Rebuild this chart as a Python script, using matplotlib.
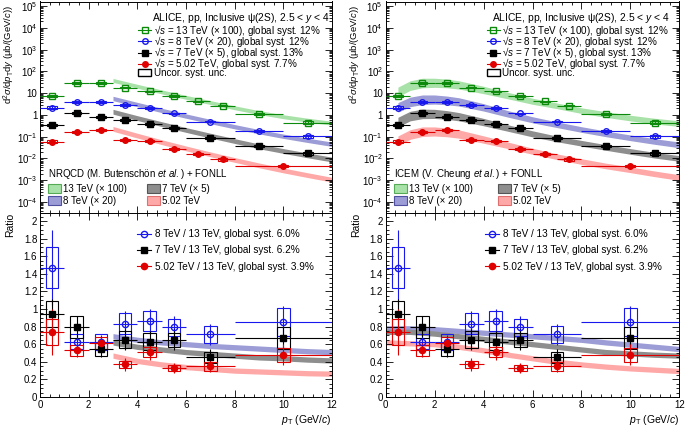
import numpy as np
import matplotlib.pyplot as plt
from matplotlib.patches import Rectangle, Patch
from matplotlib.lines import Line2D
from matplotlib.ticker import FixedLocator, MultipleLocator, FuncFormatter, NullFormatter

plt.rcParams['font.family'] = ['Liberation Sans', 'DejaVu Sans']
plt.rcParams['mathtext.fontset'] = 'custom'
plt.rcParams['mathtext.rm'] = 'Liberation Sans'
plt.rcParams['mathtext.it'] = 'Liberation Sans:italic'
plt.rcParams['mathtext.bf'] = 'Liberation Sans:bold'
plt.rcParams['font.size'] = 7

# ---- measured cross sections (already multiplied by the legend factors)
pt13 = [0.5, 1.5, 2.5, 3.5, 4.5, 5.5, 6.5, 7.5, 9, 11]
hw13 = [0.5, 0.5, 0.5, 0.5, 0.5, 0.5, 0.5, 0.5, 1, 1]
xs13 = [7.6, 30, 30, 18, 12.3, 7.6, 4.2, 2.7, 1.15, 0.45]
st13 = [0.08, 0.05, 0.05, 0.05, 0.05, 0.06, 0.07, 0.08, 0.08, 0.12]
sy13 = [0.12, 0.08, 0.08, 0.08, 0.08, 0.08, 0.08, 0.08, 0.09, 0.12]

pt8 = [0.5, 1.5, 2.5, 3.5, 4.5, 5.5, 7, 9, 11]
hw8 = [0.5, 0.5, 0.5, 0.5, 0.5, 0.5, 1, 1, 1]
xs8 = [2.2, 3.9, 3.9, 2.95, 2.1, 1.2, 0.5, 0.18, 0.104]
st8 = [0.12, 0.06, 0.06, 0.06, 0.06, 0.08, 0.10, 0.12, 0.15]
sy8 = [0.12, 0.08, 0.08, 0.08, 0.08, 0.08, 0.08, 0.09, 0.12]

pt7 = [0.5, 1.5, 2.5, 3.5, 4.5, 5.5, 7, 9, 11]
hw7 = [0.5, 0.5, 0.5, 0.5, 0.5, 0.5, 1, 1, 1]
xs7 = [0.36, 1.23, 0.81, 0.59, 0.40, 0.26, 0.084, 0.039, 0.017]
st7 = [0.10, 0.08, 0.08, 0.08, 0.09, 0.10, 0.12, 0.14, 0.18]
sy7 = [0.10, 0.09, 0.09, 0.09, 0.09, 0.09, 0.10, 0.10, 0.12]

pt5 = [0.5, 1.5, 2.5, 3.5, 4.5, 5.5, 6.5, 7.5, 10]
hw5 = [0.5, 0.5, 0.5, 0.5, 0.5, 0.5, 0.5, 0.5, 2]
xs5 = [0.059, 0.17, 0.2, 0.071, 0.066, 0.0275, 0.016, 0.009, 0.0044]
st5 = [0.12, 0.10, 0.10, 0.10, 0.10, 0.12, 0.15, 0.20, 0.20]
sy5 = [0.15, 0.09, 0.09, 0.09, 0.09, 0.10, 0.10, 0.12, 0.12]

# ---- NRQCD + FONLL (central value, log10 half width)
nrqcd_pt = [3, 4, 5, 6, 7, 8, 9, 10, 11, 12]
nrqcd13 = [38.9, 20.9, 11.5, 6.46, 3.72, 2.14, 1.29, 0.83, 0.575, 0.417]
nrqcd8 = [5.75, 3.02, 1.62, 0.89, 0.50, 0.288, 0.170, 0.105, 0.068, 0.045]
nrqcd7 = [1.41, 0.72, 0.38, 0.204, 0.112, 0.063, 0.036, 0.022, 0.0138, 0.0089]
nrqcd5 = [0.229, 0.112, 0.056, 0.029, 0.0155, 0.0085, 0.0048, 0.0028, 0.0017, 0.00105]
nrqcd_w = [0.09, 0.10, 0.11, 0.11]

# ---- ICEM + FONLL
icem_pt = [0.5, 1, 1.5, 2, 2.5, 3, 4, 5, 6, 7, 8, 9, 10, 11, 12]
icem13 = [11.5, 22.4, 29.5, 30.2, 28.2, 24.0, 14.1, 7.76, 4.27, 2.63, 1.58, 1.05, 0.72, 0.52, 0.40]
icem8 = [2.24, 3.98, 5.01, 5.13, 4.68, 3.98, 2.24, 1.12, 0.60, 0.355, 0.214, 0.135, 0.089, 0.060, 0.042]
icem7 = [0.47, 0.89, 1.12, 1.12, 1.0, 0.83, 0.47, 0.25, 0.135, 0.079, 0.050, 0.032, 0.021, 0.014, 0.010]
icem5 = [0.065, 0.126, 0.17, 0.174, 0.158, 0.132, 0.074, 0.040, 0.0214, 0.012, 0.0072, 0.0045, 0.0030, 0.00195, 0.00132]
icem_w = [0.22, 0.22, 0.22, 0.21, 0.2, 0.19, 0.17, 0.15, 0.14, 0.13, 0.13, 0.13, 0.13, 0.13, 0.13]

# ---- ratios to 13 TeV
r_pt = [0.5, 1.5, 2.5, 3.5, 4.5, 5.5, 7, 10]
r_hw = [0.5, 0.5, 0.5, 0.5, 0.5, 0.5, 1, 2]
r8 = [1.47, 0.63, 0.62, 0.83, 0.86, 0.79, 0.71, 0.85]
r8_stat = [0.43, 0.08, 0.08, 0.15, 0.14, 0.13, 0.12, 0.18]
r8_syst = [0.23, 0.085, 0.09, 0.12, 0.115, 0.10, 0.10, 0.16]
r7 = [0.94, 0.80, 0.54, 0.65, 0.63, 0.65, 0.45, 0.67]
r7_stat = [0.17, 0.12, 0.085, 0.12, 0.115, 0.12, 0.09, 0.13]
r7_syst = [0.145, 0.125, 0.075, 0.095, 0.095, 0.08, 0.065, 0.12]
r5 = [0.74, 0.53, 0.61, 0.37, 0.51, 0.33, 0.35, 0.48]
r5_stat = [0.26, 0.08, 0.07, 0.075, 0.085, 0.055, 0.065, 0.12]
r5_syst = [0.145, 0.06, 0.07, 0.04, 0.06, 0.035, 0.05, 0.08]

nrqcd_r_pt = [3, 4, 5, 6, 7, 8, 9, 10, 11, 12]
nrqcd_r8 = [0.69, 0.65, 0.62, 0.60, 0.58, 0.565, 0.55, 0.535, 0.52, 0.51]
nrqcd_r7 = [0.62, 0.57, 0.54, 0.51, 0.49, 0.47, 0.45, 0.44, 0.425, 0.415]
nrqcd_r5 = [0.47, 0.41, 0.37, 0.34, 0.32, 0.30, 0.29, 0.28, 0.27, 0.265]
icem_r_pt = [0, 1, 2, 3, 4, 5, 6, 7, 8, 9, 10, 11, 12]
icem_r8 = [0.78, 0.78, 0.77, 0.75, 0.73, 0.71, 0.69, 0.67, 0.65, 0.62, 0.595, 0.57, 0.545]
icem_r7 = [0.74, 0.74, 0.72, 0.69, 0.66, 0.63, 0.60, 0.57, 0.54, 0.51, 0.495, 0.48, 0.47]
icem_r5 = [0.62, 0.61, 0.60, 0.57, 0.53, 0.48, 0.44, 0.40, 0.37, 0.345, 0.325, 0.31, 0.295]
ratio_w = 0.03

c_g, c_b, c_k, c_r = '#0b8a0b', '#1818ee', 'black', '#e00000'
band_g, band_b, band_k, band_r = '#a8e2a8', '#9c9cd6', '#8e8e8e', '#ffa8a8'
edge_g, edge_b, edge_k, edge_r = '#55aa55', '#5050a0', '#555555', '#e07070'

decades = np.arange(-4, 6)
log_major = [10.0 ** e for e in decades]
log_minor = [m * 10.0 ** e for e in np.arange(-5, 6) for m in range(2, 10)
             if 10 ** -4.51 < m * 10.0 ** e < 10 ** 5.22]


def style_axis(ax):
    ax.tick_params(which='both', direction='in', top=True, right=True, labelsize=7, pad=2)
    ax.tick_params(which='major', length=5, width=0.6)
    ax.tick_params(which='minor', length=2.5, width=0.6)
    ax.xaxis.set_major_locator(MultipleLocator(2))
    ax.xaxis.set_minor_locator(MultipleLocator(0.4))
    for s in ax.spines.values():
        s.set_linewidth(0.7)


def log_label(v, pos):
    e = int(round(np.log10(v)))
    if e == 0:
        return '1'
    if e == 1:
        return '10'
    return r'$10^{%d}$' % e


def draw_points(ax, x, hw, y, stat, syst, color, marker, mfc, boxw, rel, ms=4):
    x = np.array(x); y = np.array(y)
    stat = np.array(stat); syst = np.array(syst)
    if rel:
        yerr = y * stat
        slo, shi = y * (1 - syst), y * (1 + syst)
    else:
        yerr = stat
        slo, shi = y - syst, y + syst
    for xi, lo, hi in zip(x, slo, shi):
        ax.add_patch(Rectangle((xi - boxw, lo), 2 * boxw, hi - lo, fill=False,
                               edgecolor=color, lw=0.8, zorder=3))
    ax.errorbar(x, y, xerr=hw, yerr=yerr, fmt=marker, color=color, mfc=mfc,
                mec=color, ms=ms, lw=0.8, capsize=0, zorder=4)


def band(ax, x, c, w, color, log=True):
    x = np.array(x); c = np.array(c); w = np.array(w) * np.ones(len(c))
    if log:
        lo, hi = c * 10 ** (-w), c * 10 ** w
    else:
        lo, hi = c - w, c + w
    ax.fill_between(x, lo, hi, color=color, lw=0, zorder=1)


def spectrum_panel(ax, model_name, mpt, m13, m8, m7, m5, mw, title_x, leg_x, th_col, lab_x):
    if len(np.atleast_1d(mw)) == 4:
        ws = mw
    else:
        ws = [mw, mw, mw, mw]
    band(ax, mpt, m13, ws[0], band_g)
    band(ax, mpt, m8, ws[1], band_b)
    band(ax, mpt, m7, ws[2], band_k)
    band(ax, mpt, m5, ws[3], band_r)
    draw_points(ax, pt13, hw13, xs13, st13, sy13, c_g, 's', 'none', 0.2, True)
    draw_points(ax, pt8, hw8, xs8, st8, sy8, c_b, 'o', 'none', 0.2, True)
    draw_points(ax, pt7, hw7, xs7, st7, sy7, c_k, 's', c_k, 0.2, True)
    draw_points(ax, pt5, hw5, xs5, st5, sy5, c_r, 'o', c_r, 0.2, True)
    ax.set_yscale('log')
    ax.set_xlim(0, 12)
    ax.set_ylim(10 ** -4.51, 10 ** 5.22)
    style_axis(ax)
    ax.yaxis.set_major_locator(FixedLocator(log_major))
    ax.yaxis.set_minor_locator(FixedLocator(log_minor))
    ax.yaxis.set_major_formatter(FuncFormatter(log_label))
    ax.yaxis.set_minor_formatter(NullFormatter())
    ax.tick_params(axis='x', labelbottom=False)
    ax.set_ylabel(r'd$^{2}\sigma$/d$p_{\rm T}$d$y$ (μb/(GeV/$c$))', loc='top', fontsize=6.8)
    ax.yaxis.set_label_coords(lab_x, 0.985)

    ax.text(title_x, 0.922, r'ALICE, pp, Inclusive ψ(2S), 2.5 < $y$ < 4',
            transform=ax.transAxes, va='center', ha='left', fontsize=7.4)
    h = [Line2D([], [], color=c_g, marker='s', mfc='none', ms=4, lw=0.8),
         Line2D([], [], color=c_b, marker='o', mfc='none', ms=4, lw=0.8),
         Line2D([], [], color=c_k, marker='s', ms=4, lw=0.8),
         Line2D([], [], color=c_r, marker='o', ms=4, lw=0.8),
         Patch(facecolor='none', edgecolor='black', lw=1)]
    labs = ['√$s$ = 13 TeV (× 100), global syst. 12%',
            '√$s$ = 8 TeV (× 20), global syst. 12%',
            '√$s$ = 7 TeV (× 5), global syst. 13%',
            '√$s$ = 5.02 TeV, global syst. 7.7%',
            'Uncor. syst. unc.']
    leg = ax.legend(h, labs, loc='upper left', bbox_to_anchor=(leg_x, 0.9), frameon=False,
                    handlelength=1.3, handletextpad=0.3, labelspacing=-0.38,
                    borderpad=0, borderaxespad=0, fontsize=7.1)
    ax.add_artist(leg)

    th = [Patch(facecolor=band_g, edgecolor=edge_g, lw=0.8),
          Patch(facecolor=band_b, edgecolor=edge_b, lw=0.8),
          Patch(facecolor=band_k, edgecolor=edge_k, lw=0.8),
          Patch(facecolor=band_r, edgecolor=edge_r, lw=0.8)]
    th_labs = ['13 TeV (× 100)', '8 TeV (× 20)', '7 TeV (× 5)', '5.02 TeV']
    leg2 = ax.legend(th, th_labs, loc='lower left', bbox_to_anchor=(0.027, 0.035), ncol=2,
                     frameon=False, title=model_name, alignment='left',
                     handlelength=1.35, handleheight=1.0, handletextpad=0.2, labelspacing=0.2,
                     columnspacing=th_col, borderpad=0, borderaxespad=0, fontsize=7,
                     title_fontsize=7)
    leg2._legend_box.sep = 2


def ratio_panel(ax, mpt, m8, m7, m5, leg_x, lab_x):
    band(ax, mpt, m8, ratio_w, band_b, log=False)
    band(ax, mpt, m7, ratio_w, band_k, log=False)
    band(ax, mpt, m5, ratio_w, band_r, log=False)
    draw_points(ax, r_pt, r_hw, r8, r8_stat, r8_syst, c_b, 'o', 'none', 0.26, False, 4.5)
    draw_points(ax, r_pt, r_hw, r7, r7_stat, r7_syst, c_k, 's', c_k, 0.26, False, 4.5)
    draw_points(ax, r_pt, r_hw, r5, r5_stat, r5_syst, c_r, 'o', c_r, 0.26, False, 4.5)
    ax.set_xlim(0, 12)
    ax.set_ylim(0, 2.09)
    style_axis(ax)
    ax.yaxis.set_major_locator(MultipleLocator(0.2))
    ax.yaxis.set_minor_locator(MultipleLocator(0.05))
    ax.yaxis.set_major_formatter(FuncFormatter(lambda v, p: '%g' % round(v, 2)))
    ax.set_ylabel('Ratio', loc='top', fontsize=7.5)
    ax.yaxis.set_label_coords(lab_x, 1.0)
    ax.set_xlabel(r'$p_{\rm T}$ (GeV/$c$)', loc='right', fontsize=7.5, labelpad=2)
    h = [Line2D([], [], color=c_b, marker='o', mfc='none', ms=4.5, lw=0.8),
         Line2D([], [], color=c_k, marker='s', ms=4.5, lw=0.8),
         Line2D([], [], color=c_r, marker='o', ms=4.5, lw=0.8)]
    labs = ['8 TeV / 13 TeV, global syst. 6.0%',
            '7 TeV / 13 TeV, global syst. 6.2%',
            '5.02 TeV / 13 TeV, global syst. 3.9%']
    ax.legend(h, labs, loc='upper left', bbox_to_anchor=(leg_x, 0.912), frameon=False,
              handlelength=1.45, handletextpad=0.35, labelspacing=0.62,
              borderpad=0, borderaxespad=0, fontsize=7.2)


fig = plt.figure(figsize=(6.85, 4.26), dpi=100)
ax1 = fig.add_axes([40 / 685, 1 - 213 / 426, 292 / 685, 211.5 / 426])
ax2 = fig.add_axes([40 / 685, 1 - 397 / 426, 292 / 685, 184 / 426])
ax3 = fig.add_axes([385.7 / 685, 1 - 213 / 426, 293.6 / 685, 211.5 / 426])
ax4 = fig.add_axes([385.7 / 685, 1 - 397 / 426, 293.6 / 685, 184 / 426])

spectrum_panel(ax1, r'NRQCD (M. Butenschön $et\ al.$) + FONLL', nrqcd_pt,
               nrqcd13, nrqcd8, nrqcd7, nrqcd5, nrqcd_w, 0.382, 0.336, 2.1, -0.079)
spectrum_panel(ax3, r'ICEM (V. Cheung $et\ al.$) + FONLL', icem_pt,
               icem13, icem8, icem7, icem5, icem_w, 0.363, 0.344, 2.6, -0.078)
ratio_panel(ax2, nrqcd_r_pt, nrqcd_r8, nrqcd_r7, nrqcd_r5, 0.332, -0.085)
ratio_panel(ax4, icem_r_pt, icem_r8, icem_r7, icem_r5, 0.338, -0.084)

fig.savefig('out.png', dpi=100)
